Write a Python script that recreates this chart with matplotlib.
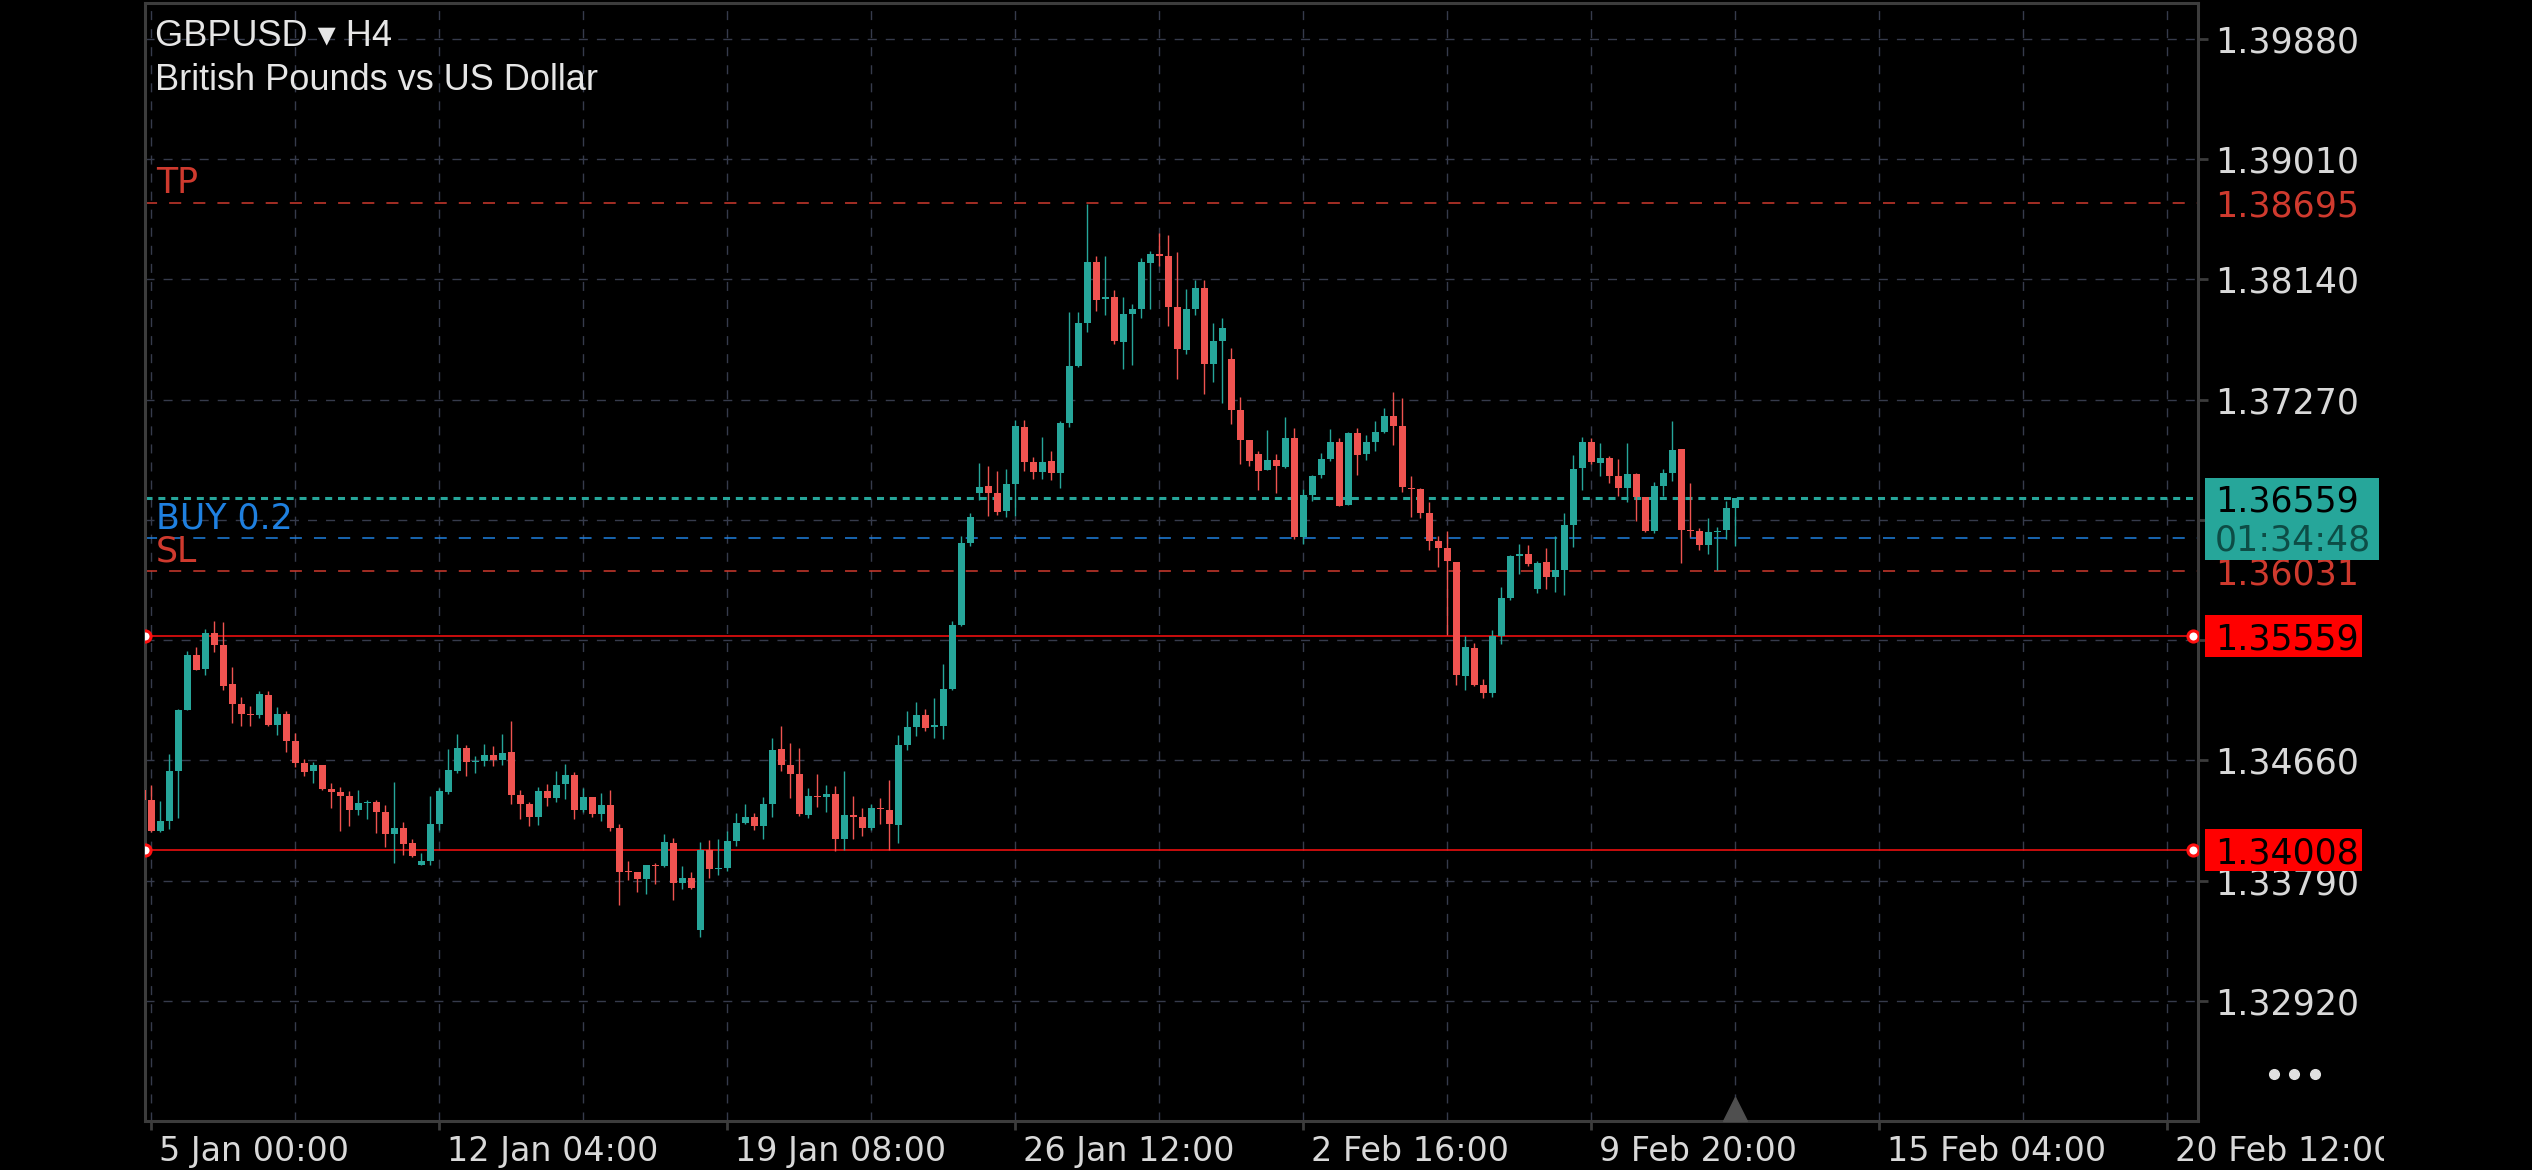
import numpy as np
import matplotlib.pyplot as plt
from matplotlib.patches import Rectangle
from matplotlib.transforms import ScaledTranslation, Bbox, TransformedBbox

# GBPUSD H4 candles (first bar sits just left of the axes)
first_bar = -1
opens = [1.34445, 1.34373, 1.34151, 1.34223, 1.34585, 1.35024, 1.35422, 1.35321, 1.35581, 1.35494,
         1.35212, 1.35067, 1.34995, 1.34988, 1.35132, 1.34918, 1.34995, 1.34800, 1.34641, 1.34585,
         1.34626, 1.34452, 1.34431, 1.34402, 1.34303, 1.34353, 1.34358, 1.34286, 1.34129, 1.34170,
         1.34062, 1.33903, 1.33931, 1.34199, 1.34431, 1.34583, 1.34749, 1.34650, 1.34655, 1.34698,
         1.34662, 1.34720, 1.34409, 1.34344, 1.34250, 1.34438, 1.34387, 1.34489, 1.34554, 1.34300,
         1.34394, 1.34272, 1.34337, 1.34170, 1.33859, 1.33852, 1.33801, 1.33903, 1.33895, 1.34062,
         1.33772, 1.33808, 1.33432, 1.34011, 1.33876, 1.33881, 1.34076, 1.34206, 1.34250, 1.34185,
         1.34344, 1.34742, 1.34626, 1.34561, 1.34264, 1.34402, 1.34395, 1.34416, 1.34091, 1.34264,
         1.34250, 1.34170, 1.34315, 1.34300, 1.34192, 1.34771, 1.34901, 1.34988, 1.34901, 1.34908,
         1.35176, 1.35639, 1.36232, 1.36594, 1.36645, 1.36594, 1.36464, 1.36659, 1.37071, 1.36818,
         1.36746, 1.36825, 1.36739, 1.37100, 1.37513, 1.37824, 1.38265, 1.37998, 1.38012, 1.37686,
         1.37889, 1.37925, 1.38258, 1.38323, 1.38309, 1.37940, 1.37628, 1.37925, 1.38077, 1.37527,
         1.37694, 1.37560, 1.37194, 1.36977, 1.36876, 1.36760, 1.36833, 1.36782, 1.36992, 1.36276,
         1.36579, 1.36724, 1.36840, 1.36963, 1.36507, 1.37028, 1.36876, 1.36963, 1.37035, 1.37151,
         1.37079, 1.36630, 1.36623, 1.36449, 1.36247, 1.36196, 1.36095, 1.35270, 1.35473, 1.35205,
         1.35150, 1.35560, 1.35834, 1.36138, 1.36153, 1.35899, 1.36095, 1.35986, 1.36037, 1.36362,
         1.36775, 1.36963, 1.36811, 1.36847, 1.36717, 1.36630, 1.36731, 1.36565, 1.36319, 1.36645,
         1.36739, 1.36912, 1.36326, 1.36319, 1.36218, 1.36312, 1.36326, 1.36485]
highs = [1.34469, 1.34481, 1.34366, 1.34706, 1.35031, 1.35451, 1.35480, 1.35610, 1.35668, 1.35661,
         1.35335, 1.35118, 1.35053, 1.35161, 1.35161, 1.35046, 1.35017, 1.34858, 1.34669, 1.34648,
         1.34626, 1.34498, 1.34467, 1.34438, 1.34445, 1.34373, 1.34373, 1.34337, 1.34505, 1.34214,
         1.34091, 1.33989, 1.34402, 1.34460, 1.34742, 1.34850, 1.34771, 1.34691, 1.34778, 1.34764,
         1.34850, 1.34944, 1.34445, 1.34358, 1.34467, 1.34489, 1.34583, 1.34633, 1.34575, 1.34460,
         1.34394, 1.34423, 1.34445, 1.34199, 1.33931, 1.33852, 1.33903, 1.33917, 1.34127, 1.34098,
         1.33895, 1.33852, 1.34069, 1.34083, 1.34091, 1.34149, 1.34279, 1.34344, 1.34279, 1.34395,
         1.34821, 1.34908, 1.34785, 1.34749, 1.34460, 1.34561, 1.34481, 1.34474, 1.34583, 1.34402,
         1.34315, 1.34344, 1.34387, 1.34518, 1.34843, 1.35017, 1.35082, 1.35031, 1.35111, 1.35357,
         1.35668, 1.36283, 1.36449, 1.36811, 1.36789, 1.36753, 1.36768, 1.37122, 1.37122, 1.36854,
         1.36999, 1.36898, 1.37115, 1.37903, 1.37903, 1.38685, 1.38309, 1.38309, 1.38066, 1.38012,
         1.37961, 1.38294, 1.38345, 1.38475, 1.38461, 1.38338, 1.38070, 1.38135, 1.38135, 1.37824,
         1.37860, 1.37640, 1.37288, 1.36977, 1.36898, 1.37050, 1.36876, 1.37144, 1.37064, 1.36623,
         1.36724, 1.36883, 1.37057, 1.36992, 1.37035, 1.37064, 1.37013, 1.37115, 1.37209, 1.37325,
         1.37281, 1.36717, 1.36630, 1.36529, 1.36283, 1.36319, 1.36095, 1.35559, 1.35509, 1.35250,
         1.35600, 1.35914, 1.36145, 1.36225, 1.36218, 1.36102, 1.36196, 1.36283, 1.36449, 1.36869,
         1.36999, 1.36992, 1.36956, 1.36862, 1.36840, 1.36956, 1.36739, 1.36565, 1.36673, 1.36768,
         1.37115, 1.36912, 1.36666, 1.36341, 1.36413, 1.36348, 1.36536, 1.36559]
lows = [1.34361, 1.34139, 1.34139, 1.34163, 1.34245, 1.35024, 1.35313, 1.35280, 1.35446, 1.35171,
        1.34932, 1.34911, 1.34911, 1.34968, 1.34911, 1.34846, 1.34722, 1.34614, 1.34549, 1.34498,
        1.34448, 1.34317, 1.34151, 1.34187, 1.34267, 1.34238, 1.34137, 1.34035, 1.33919, 1.33977,
        1.33960, 1.33903, 1.33903, 1.34156, 1.34416, 1.34568, 1.34546, 1.34568, 1.34619, 1.34619,
        1.34626, 1.34344, 1.34235, 1.34185, 1.34192, 1.34329, 1.34358, 1.34380, 1.34235, 1.34286,
        1.34250, 1.34221, 1.34148, 1.33613, 1.33794, 1.33707, 1.33693, 1.33765, 1.33888, 1.33649,
        1.33729, 1.33729, 1.33382, 1.33808, 1.33830, 1.33859, 1.34040, 1.34199, 1.34156, 1.34091,
        1.34250, 1.34583, 1.34387, 1.34257, 1.34243, 1.34322, 1.34286, 1.34004, 1.34011, 1.34091,
        1.34112, 1.34156, 1.34199, 1.34011, 1.34062, 1.34735, 1.34836, 1.34872, 1.34821, 1.34814,
        1.35169, 1.35630, 1.36210, 1.36543, 1.36427, 1.36435, 1.36420, 1.36427, 1.36753, 1.36695,
        1.36695, 1.36688, 1.36630, 1.37071, 1.37505, 1.37759, 1.37911, 1.37882, 1.37672, 1.37491,
        1.37520, 1.37860, 1.37925, 1.38236, 1.37802, 1.37419, 1.37600, 1.37882, 1.37310, 1.37397,
        1.37247, 1.37093, 1.36804, 1.36789, 1.36616, 1.36760, 1.36594, 1.36775, 1.36261, 1.36225,
        1.36536, 1.36702, 1.36825, 1.36500, 1.36507, 1.36724, 1.36833, 1.36898, 1.37028, 1.36941,
        1.36601, 1.36420, 1.36413, 1.36181, 1.36059, 1.35567, 1.35205, 1.35169, 1.35198, 1.35110,
        1.35120, 1.35500, 1.35820, 1.36008, 1.36066, 1.35870, 1.35899, 1.35878, 1.35856, 1.36203,
        1.36616, 1.36804, 1.36717, 1.36666, 1.36572, 1.36529, 1.36391, 1.36312, 1.36304, 1.36572,
        1.36681, 1.36088, 1.36276, 1.36182, 1.36153, 1.36037, 1.36261, 1.36210]
closes = [1.34373, 1.34151, 1.34221, 1.34583, 1.35024, 1.35422, 1.35313, 1.35581, 1.35497, 1.35200,
          1.35070, 1.34997, 1.34990, 1.35140, 1.34918, 1.34995, 1.34802, 1.34643, 1.34578, 1.34626,
          1.34455, 1.34433, 1.34404, 1.34303, 1.34351, 1.34361, 1.34288, 1.34129, 1.34170, 1.34057,
          1.33968, 1.33931, 1.34199, 1.34438, 1.34590, 1.34749, 1.34648, 1.34657, 1.34698, 1.34662,
          1.34713, 1.34409, 1.34344, 1.34250, 1.34438, 1.34387, 1.34481, 1.34554, 1.34300, 1.34394,
          1.34272, 1.34337, 1.34170, 1.33852, 1.33852, 1.33801, 1.33903, 1.33895, 1.34069, 1.33772,
          1.33808, 1.33736, 1.34011, 1.33874, 1.33884, 1.34076, 1.34206, 1.34250, 1.34185, 1.34344,
          1.34735, 1.34626, 1.34561, 1.34272, 1.34402, 1.34395, 1.34416, 1.34091, 1.34264, 1.34250,
          1.34170, 1.34315, 1.34308, 1.34199, 1.34771, 1.34901, 1.34988, 1.34894, 1.34915, 1.35176,
          1.35639, 1.36232, 1.36420, 1.36637, 1.36594, 1.36456, 1.36659, 1.37079, 1.36818, 1.36746,
          1.36818, 1.36739, 1.37100, 1.37513, 1.37824, 1.38265, 1.37990, 1.38012, 1.37694, 1.37889,
          1.37925, 1.38265, 1.38323, 1.38309, 1.37940, 1.37636, 1.37925, 1.38077, 1.37527, 1.37694,
          1.37788, 1.37194, 1.36977, 1.36825, 1.36753, 1.36833, 1.36789, 1.36992, 1.36276, 1.36579,
          1.36717, 1.36840, 1.36963, 1.36500, 1.37028, 1.36869, 1.36963, 1.37035, 1.37151, 1.37079,
          1.36637, 1.36623, 1.36449, 1.36247, 1.36196, 1.36102, 1.35277, 1.35480, 1.35205, 1.35150,
          1.35560, 1.35834, 1.36138, 1.36153, 1.36080, 1.36088, 1.35986, 1.36037, 1.36362, 1.36768,
          1.36963, 1.36818, 1.36847, 1.36717, 1.36630, 1.36731, 1.36565, 1.36319, 1.36645, 1.36739,
          1.36905, 1.36326, 1.36319, 1.36218, 1.36312, 1.36319, 1.36485, 1.36559]

date_labels = ['5 Jan 00:00', '12 Jan 04:00', '19 Jan 08:00', '26 Jan 12:00',
               '2 Feb 16:00', '9 Feb 20:00', '15 Feb 04:00', '20 Feb 12:00']
bars_per_label = 32
price_ticks = [1.32920, 1.33790, 1.34660, 1.35530, 1.36400, 1.37270, 1.38140, 1.39010, 1.39880]
# 1.35530 and 1.36400 sit under the price boxes, so their labels are not shown
price_tick_labels = ['1.32920', '1.33790', '1.34660', '', '', '1.37270', '1.38140', '1.39010', '1.39880']

symbol = 'GBPUSD \u25be H4'
description = 'British Pounds vs US Dollar'
tp_price = 1.38695
sl_price = 1.36031
buy_price = 1.36270
buy_label = 'BUY 0.2'
current_price = 1.36559
countdown = '01:34:48'
hline_prices = [1.35559, 1.34008]

TEAL = '#26a69a'
RED = '#ef5350'
ORDER_RED = '#cf3a2e'
ORDER_BLUE = '#1f80e0'
GRID = '#363b4c'
FRAME = '#3c3c3c'
TXT = '#d9d9d9'

W, H = 2532, 1170
fig = plt.figure(figsize=(W / 100, H / 100), dpi=100, facecolor='black')
ax = fig.add_axes([145 / W, 1 - 1121 / H, 2053 / W, 1118 / H], facecolor='black')
xmin, xmax = -0.7, 227.4
ymin, ymax = 1.32050, 1.40139


def dy(px):
    # price distance covered by px screen pixels
    return px * (ymax - ymin) / 1118


# candles
o, h, l, c = map(np.array, (opens, highs, lows, closes))
x = np.arange(first_bar, first_bar + len(o))
cols = np.where(c >= o, TEAL, RED)
ax.vlines(x, l, h, colors=cols, lw=1.0, zorder=3)
ax.bar(x, np.maximum(np.abs(c - o), 0.00008), bottom=np.minimum(o, c),
       width=0.78, color=cols, linewidth=0, zorder=4)

# grid / axes
major = [k * bars_per_label for k in range(len(date_labels))]
minor = [m + bars_per_label / 2 for m in major if m + bars_per_label / 2 < xmax]
ax.set_axisbelow(True)
ax.set_xticks(major)
ax.set_xticks(minor, minor=True)
ax.set_xticklabels(date_labels)
ax.yaxis.tick_right()
ax.set_yticks(price_ticks)
ax.set_yticklabels(price_tick_labels)
ax.set_xlim(xmin, xmax)
ax.set_ylim(ymin, ymax)
ax.grid(which='both', axis='x', color=GRID, lw=1.0, ls=(0, (6.5, 6.5)))
ax.grid(which='major', axis='y', color=GRID, lw=1.0, ls=(0, (6.5, 6.5)))
ax.tick_params(which='minor', length=0)
ax.tick_params(axis='x', which='major', length=6.5, width=2, color=FRAME,
               labelcolor=TXT, labelsize=24, pad=3.5)
ax.tick_params(axis='y', which='major', length=7, width=2, color=FRAME,
               labelcolor=TXT, labelsize=25, pad=5)
for s in ax.spines.values():
    s.set_color(FRAME)
    s.set_linewidth(2.2)

# date labels start just right of their tick; the last one is cut at the screen edge
shift = ScaledTranslation(8 / 100, 0, fig.dpi_scale_trans)
clip = TransformedBbox(Bbox.from_extents(0, 0, 2384 / W, 1), fig.transFigure)
for lab in ax.get_xticklabels():
    lab.set_ha('left')
    lab.set_transform(lab.get_transform() + shift)
    lab.set_clip_on(True)
    lab.set_clip_box(clip)

# order lines
ax.axhline(tp_price, color=ORDER_RED, lw=1.1, ls=(0, (7.9, 7.9)), zorder=2)
ax.axhline(sl_price, color=ORDER_RED, lw=1.1, ls=(0, (7.9, 7.9)), zorder=2)
ax.axhline(buy_price, color=ORDER_BLUE, lw=1.1, ls=(0, (7.9, 7.9)), zorder=2)
ax.axhline(current_price, color=TEAL, lw=2.2, ls=(0, (2.3, 1.9)), zorder=2)

for txt, p, col in [('TP', tp_price, ORDER_RED), (buy_label, buy_price, ORDER_BLUE), ('SL', sl_price, ORDER_RED)]:
    ax.annotate(txt, (0.0054, p), xycoords=('axes fraction', 'data'), xytext=(0, 6.8),
                textcoords='offset points', color=col, fontsize=25, va='baseline', ha='left')

# horizontal line objects
yax = ax.get_yaxis_transform()
for p in hline_prices:
    ax.axhline(p, color='#ff1010', lw=1.1, zorder=2)
    ax.plot([0.0, 0.9976], [p, p], transform=yax, ls='none', marker='o', ms=8,
            mfc='white', mec='#ff1010', mew=2.2, zorder=6)
    ax.add_patch(Rectangle((1.0034, p - dy(21)), 0.0765, dy(42), transform=yax,
                           facecolor='#ff0000', edgecolor='none', clip_on=False, zorder=5))
    ax.text(1.0083, p, f'{p:.5f}', transform=yax, color='black', fontsize=25,
            va='center_baseline', ha='left', clip_on=False, zorder=6)

# price scale labels
ax.text(1.0083, tp_price, f'{tp_price:.5f}', transform=yax, color=ORDER_RED, fontsize=25,
        va='center_baseline', ha='left', clip_on=False, zorder=4)
ax.text(1.0083, sl_price, f'{sl_price:.5f}', transform=yax, color=ORDER_RED, fontsize=25,
        va='center_baseline', ha='left', clip_on=False, zorder=4)
ax.add_patch(Rectangle((1.0034, current_price - dy(61.7)), 0.0848, dy(81.5), transform=yax,
                       facecolor=TEAL, edgecolor='none', clip_on=False, zorder=5))
ax.text(1.0083, current_price, f'{current_price:.5f}', transform=yax, color='black', fontsize=25,
        va='center_baseline', ha='left', clip_on=False, zorder=6)
ax.text(1.0083, current_price - dy(39), countdown, transform=yax, color='#0d4d46', fontsize=25,
        va='center_baseline', ha='left', clip_on=False, zorder=6)

# current bar marker
ax.plot([x[-1]], [0.0107], transform=ax.get_xaxis_transform(), ls='none', marker='^',
        ms=17, color='#4f4f4f', clip_on=False, zorder=5)

# header
fam = ['Liberation Sans', 'DejaVu Sans']
fig.text(155 / W, 1 - 46 / H, symbol, family=fam, fontsize=26, color='#e6e6e6', va='baseline')
fig.text(155 / W, 1 - 90 / H, description, family=fam, fontsize=26, color='#e6e6e6', va='baseline')

# menu dots
fig.add_artist(plt.Line2D([2274 / W, 2294 / W, 2315 / W], [1 - 1074 / H] * 3, transform=fig.transFigure,
                          ls='none', marker='o', ms=7, color='#e0e0e0'))

fig.savefig('out.png', dpi=100, facecolor='black')
